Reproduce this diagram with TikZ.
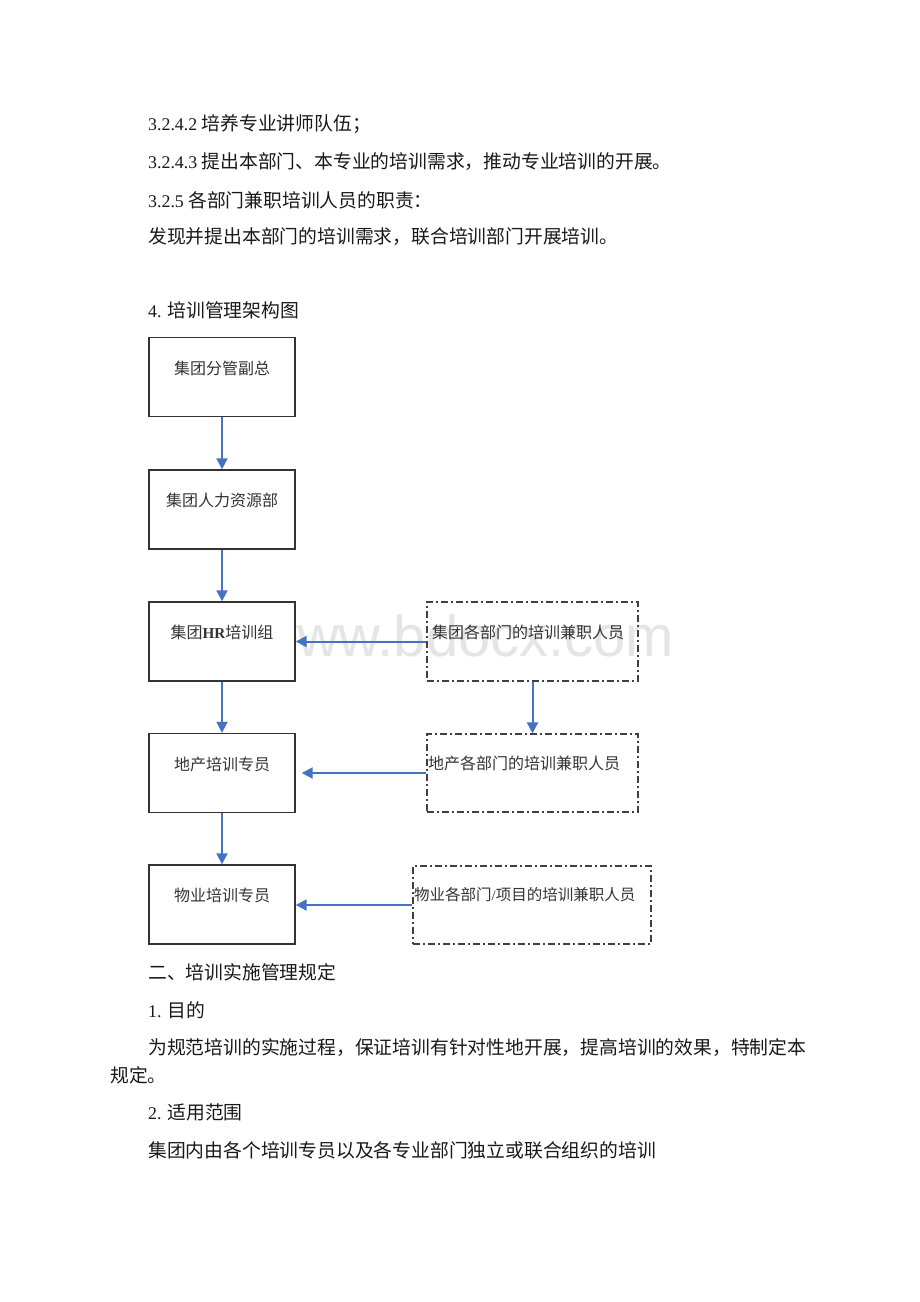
\documentclass[tikz,border=0pt]{standalone}
\usepackage{fontspec}
\setmainfont{Liberation Serif}[Scale=0.95]
\newfontfamily\cjk{Noto Sans CJK SC}
\newfontfamily\wmfont{Liberation Sans}
\usetikzlibrary{arrows.meta}
\definecolor{arrblue}{HTML}{4472C4}
\tikzset{
  body/.style={anchor=west, inner sep=0pt, font=\fontsize{18.8}{20}\selectfont, text=black!90},
  box/.style={draw=black!80, line width=1.4pt, fill=white, minimum width=146pt, minimum height=79pt, inner sep=0pt},
  dbox/.style={draw=black!75, line width=1.3pt, dash pattern=on 7pt off 3pt on 2pt off 3pt, minimum height=79pt, inner sep=0pt},
  blabel/.style={inner sep=0pt, font=\fontsize{16}{18}\selectfont, text=black!80},
  dlabel/.style={anchor=west, inner sep=0pt, font=\fontsize{16}{18}\selectfont, text=black!80},
  arr/.style={draw=arrblue, line width=2pt, -{Triangle[width=11pt,length=11pt]}},
}
\begin{document}
\begin{tikzpicture}[x=1pt,y=-1pt]
\useasboundingbox (0,0) rectangle (920,1302);
\fill[white] (0,0) rectangle (920,1302);

% watermark
\node[anchor=base west, inner sep=0pt, font=\wmfont\fontsize{58}{60}\selectfont, text=black!10] (wm) at (255,656) {www.bdocx.com};

% top text
\node[body] (l1) at (148,124) {3.2.4.2 {\cjk 培养专业讲师队伍；}};
\node[body] (l2) at (148,162) {3.2.4.3 {\cjk 提出本部门、本专业的培训需求，推动专业培训的开展。}};
\node[body] (l3) at (148,200) {3.2.5 {\cjk 各部门兼职培训人员的职责：}};
\node[body] (l4) at (148,237) {{\cjk 发现并提出本部门的培训需求，联合培训部门开展培训。}};
\node[body] (l5) at (148,310) {4. {\cjk 培训管理架构图}};

% left boxes
\node[box] (b1) at (222,377) {};
\node[box] (b2) at (222,509.5) {};
\node[box] (b3) at (222,641.5) {};
\node[box] (b4) at (222,773) {};
\node[box] (b5) at (222,904.5) {};
\node[blabel] (t1) at ([yshift=9pt]b1.center) {\cjk 集团分管副总};
\node[blabel] (t2) at ([yshift=9pt]b2.center) {\cjk 集团人力资源部};
\node[blabel] (t3) at ([yshift=9pt]b3.center) {{\cjk 集团}\textbf{HR}{\cjk 培训组}};
\node[blabel] (t4) at ([yshift=9pt]b4.center) {\cjk 地产培训专员};
\node[blabel] (t5) at ([yshift=9pt]b5.center) {\cjk 物业培训专员};

% dashed boxes
\node[dbox, minimum width=211pt] (da) at (532.5,641.5) {};
\node[dbox, minimum width=211pt, minimum height=78pt] (db) at (532.5,773) {};
\node[dbox, minimum width=238pt, minimum height=78pt] (dc) at (532,905) {};
\node[dlabel] (ta) at (432,632) {\cjk 集团各部门的培训兼职人员};
\node[dlabel] (tb) at (428,763) {\cjk 地产各部门的培训兼职人员};
\node[dlabel, font=\fontsize{15.5}{18}\selectfont] (tc) at (414,895) {{\cjk 物业各部门}/{\cjk 项目的培训兼职人员}};

% arrows
\draw[arr] (b1.south) -- (b2.north);
\draw[arr] (b2.south) -- (b3.north);
\draw[arr] (b3.south) -- (b4.north);
\draw[arr] (b4.south) -- (b5.north);
\draw[arr] (da.west) -- (da.west -| b3.east);
\draw[arr] (db.west) -- ([xshift=6pt]db.west -| b4.east);
\draw[arr] (dc.west) -- (dc.west -| b5.east);
\draw[arr] (da.south) -- (db.north);

% bottom text
\node[body] (m1) at (148,972) {{\cjk 二、培训实施管理规定}};
\node[body] (m2) at (148,1010) {1. {\cjk 目的}};
\node[body] (m3) at (148,1048) {{\cjk 为规范培训的实施过程，保证培训有针对性地开展，提高培训的效果，特制定本}};
\node[body] (m4) at (110,1075) {{\cjk 规定。}};
\node[body] (m5) at (148,1112) {2. {\cjk 适用范围}};
\node[body] (m6) at (148,1150) {{\cjk 集团内由各个培训专员以及各专业部门独立或联合组织的培训}};
\end{tikzpicture}
\end{document}
